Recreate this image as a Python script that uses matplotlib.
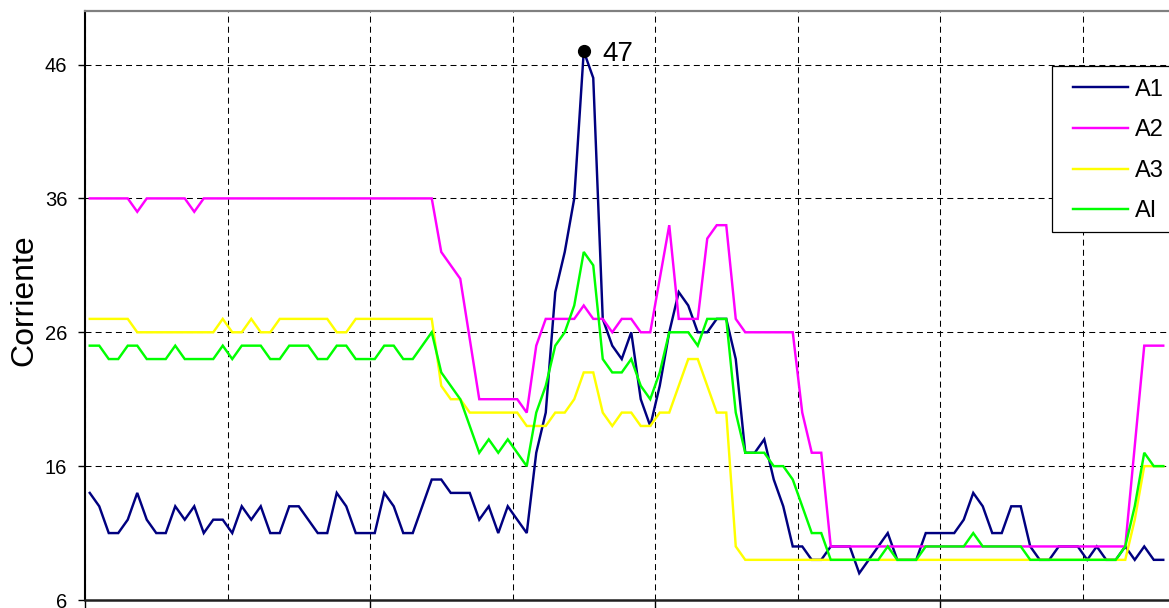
import numpy as np
import matplotlib
matplotlib.use("Agg")
import matplotlib.pyplot as plt
from matplotlib.patches import Rectangle
from matplotlib.ticker import MultipleLocator

plt.rcParams['font.family'] = ['Liberation Sans', 'DejaVu Sans']
plt.rcParams['lines.scale_dashes'] = False

# ---- data ----
a1 = [14, 13, 11, 11, 12, 14, 12, 11, 11, 13, 12, 13, 11, 12, 12, 11, 13, 12, 13, 11,
      11, 13, 13, 12, 11, 11, 14, 13, 11, 11, 11, 14, 13, 11, 11, 13, 15, 15, 14, 14,
      14, 12, 13, 11, 13, 12, 11, 17, 20, 29, 32, 36, 47, 45, 27, 25, 24, 26, 21, 19,
      22, 26, 29, 28, 26, 26, 27, 27, 24, 17, 17, 18, 15, 13, 10, 10, 9, 9, 10, 10,
      10, 8, 9, 10, 11, 9, 9, 9, 11, 11, 11, 11, 12, 14, 13, 11, 11, 13, 13, 10,
      9, 9, 10, 10, 10, 9, 10, 9, 9, 10, 9, 10, 9, 9]
a2 = [36, 36, 36, 36, 36, 35, 36, 36, 36, 36, 36, 35, 36, 36, 36, 36, 36, 36, 36, 36,
      36, 36, 36, 36, 36, 36, 36, 36, 36, 36, 36, 36, 36, 36, 36, 36, 36, 32, 31, 30,
      25.5, 21, 21, 21, 21, 21, 20, 25, 27, 27, 27, 27, 28, 27, 27, 26, 27, 27, 26, 26,
      30, 34, 27, 27, 27, 33, 34, 34, 27, 26, 26, 26, 26, 26, 26, 20, 17, 17, 10, 10,
      10, 10, 10, 10, 10, 10, 10, 10, 10, 10, 10, 10, 10, 10, 10, 10, 10, 10, 10, 10,
      10, 10, 10, 10, 10, 10, 10, 10, 10, 10, 17.5, 25, 25, 25]
a3 = [27, 27, 27, 27, 27, 26, 26, 26, 26, 26, 26, 26, 26, 26, 27, 26, 26, 27, 26, 26,
      27, 27, 27, 27, 27, 27, 26, 26, 27, 27, 27, 27, 27, 27, 27, 27, 27, 22, 21, 21,
      20, 20, 20, 20, 20, 20, 19, 19, 19, 20, 20, 21, 23, 23, 20, 19, 20, 20, 19, 19,
      20, 20, 22, 24, 24, 22, 20, 20, 10, 9, 9, 9, 9, 9, 9, 9, 9, 9, 9, 9,
      9, 9, 9, 9, 9, 9, 9, 9, 9, 9, 9, 9, 9, 9, 9, 9, 9, 9, 9, 9,
      9, 9, 9, 9, 9, 9, 9, 9, 9, 9, 12, 16, 16, 16]
ai = [25, 25, 24, 24, 25, 25, 24, 24, 24, 25, 24, 24, 24, 24, 25, 24, 25, 25, 25, 24,
      24, 25, 25, 25, 24, 24, 25, 25, 24, 24, 24, 25, 25, 24, 24, 25, 26, 23, 22, 21,
      19, 17, 18, 17, 18, 17, 16, 20, 22, 25, 26, 28, 32, 31, 24, 23, 23, 24, 22, 21,
      23, 26, 26, 26, 25, 27, 27, 27, 20, 17, 17, 17, 16, 16, 15, 13, 11, 11, 9, 9,
      9, 9, 9, 9, 10, 9, 9, 9, 10, 10, 10, 10, 10, 11, 10, 10, 10, 10, 10, 9,
      9, 9, 9, 9, 9, 9, 9, 9, 9, 10, 13, 17, 16, 16]
series_names = ["A1", "A2", "A3", "AI"]
series_colors = ["#000080", "#FF00FF", "#FFFF00", "#00FF00"]
y_ticks = [6, 16, 26, 36, 46]
peak_label = "47"
n_categories = 120

W, H = 1169, 608
fig = plt.figure(figsize=(W / 100, H / 100), dpi=100)
ax = fig.add_axes([85 / W, 8 / H, 1140 / W, 589 / H])

x = np.arange(len(a1)) + 0.5
for vals, name, col in zip([a1, a2, a3, ai], series_names, series_colors):
    ax.plot(x, vals, color=col, lw=1.75, label=name, solid_joinstyle='miter', zorder=3)

# peak marker + label
ipk = int(np.argmax(a1))
ax.plot([x[ipk]], [a1[ipk]], 'o', color='black', ms=8.5, zorder=5)
ax.annotate(peak_label, xy=(x[ipk], a1[ipk]), xytext=(13.5, -7.3),
            textcoords='offset points', fontsize=20, ha='left', va='baseline')

ax.set_xlim(0, n_categories)
ax.set_ylim(6, 50)
ax.set_yticks(y_ticks)
ax.xaxis.set_major_locator(MultipleLocator(30))
ax.xaxis.set_minor_locator(MultipleLocator(15))
ax.tick_params(axis='x', which='major', direction='out', length=6, width=1,
               labelbottom=False, color='black')
ax.tick_params(axis='x', which='minor', length=0)
ax.tick_params(axis='y', direction='out', length=4.7, width=1, pad=8,
               labelsize=14.5, color='black')

grid_kw = dict(color='black', lw=0.75, linestyle=(0, (4.3, 3.0)))
ax.grid(True, axis='x', which='both', **grid_kw)
ax.grid(True, axis='y', which='major', **grid_kw)
ax.set_axisbelow(True)

ax.spines['left'].set_color('black')
ax.spines['left'].set_linewidth(1.5)
ax.spines['top'].set_color('#808080')
ax.spines['top'].set_linewidth(1.6)
ax.spines['bottom'].set_color('#202020')
ax.spines['bottom'].set_linewidth(1.8)
ax.spines['right'].set_visible(False)

fig.text(24.5 / W, 1 - 300 / H, "Corriente", rotation=90, ha='center', va='center',
         fontsize=23)

# legend box (extends past the right edge)
rect = Rectangle((1051.7 / W, 1 - 231.7 / H), 0.2, 165.7 / H, transform=fig.transFigure,
                 facecolor='white', edgecolor='black', lw=0.9, zorder=4)
fig.patches.append(rect)
handles, labels = ax.get_legend_handles_labels()
leg = fig.legend(handles, labels, loc='upper left',
                 bbox_to_anchor=(1073 / W, 1 - 78.5 / H), bbox_transform=fig.transFigure,
                 frameon=False, borderpad=0, borderaxespad=0, fontsize=17,
                 handlelength=2.33, handletextpad=0.3, labelspacing=0.79)
leg.set_zorder(5)

fig.savefig("out.png", dpi=100)
